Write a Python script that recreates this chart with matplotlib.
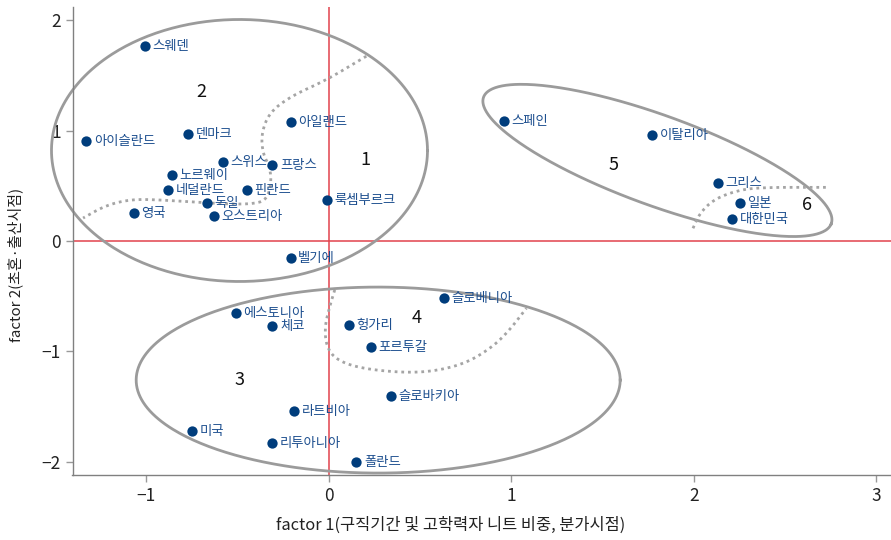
import matplotlib.pyplot as plt
import numpy as np

plt.rcParams['font.family'] = ['Noto Sans CJK KR', 'DejaVu Sans']

# country scores on the two factors
countries = ["스웨덴", "아이슬란드", "덴마크", "아일랜드", "스위스", "프랑스", "노르웨이",
             "네덜란드", "핀란드", "독일", "영국", "오스트리아", "룩셈부르크", "벨기에",
             "스페인", "이탈리아", "그리스", "일본", "대한민국",
             "슬로베니아", "에스토니아", "체코", "헝가리", "포르투갈", "슬로바키아",
             "라트비아", "미국", "리투아니아", "폴란드"]
factor1 = [-1.01, -1.33, -0.77, -0.21, -0.58, -0.31, -0.86,
           -0.88, -0.45, -0.67, -1.07, -0.63, -0.01, -0.21,
           0.96, 1.77, 2.13, 2.25, 2.21,
           0.63, -0.51, -0.31, 0.11, 0.23, 0.34,
           -0.19, -0.75, -0.31, 0.15]
factor2 = [1.77, 0.91, 0.97, 1.08, 0.72, 0.69, 0.60,
           0.46, 0.46, 0.34, 0.25, 0.23, 0.37, -0.15,
           1.09, 0.96, 0.53, 0.34, 0.20,
           -0.52, -0.65, -0.77, -0.76, -0.96, -1.40,
           -1.54, -1.72, -1.83, -2.00]

# cluster numbers and where they sit
cluster_ids = ["1", "2", "3", "4", "5", "6"]
cluster_x = [0.20, -0.70, -0.49, 0.48, 1.56, 2.62]
cluster_y = [0.73, 1.35, -1.26, -0.70, 0.69, 0.33]

# grouping ellipses: centre (data), semi-axes (px), rotation (deg, screen)
ellipses = [
    (-0.49, 0.82, 188, 131, 0),
    (0.27, -1.26, 242, 93, 0),
    (1.80, 0.73, 185, 45, -20),
]

# dotted sub-group boundaries
split_a_x = [0.205, -0.014, -0.198, -0.324, -0.370, -0.363, -0.324, -0.315,
             -0.342, -0.418, -0.562, -0.763, -0.911, -1.075, -1.219, -1.347]
split_a_y = [1.674, 1.457, 1.321, 1.170, 0.977, 0.796, 0.672, 0.525,
             0.371, 0.335, 0.335, 0.356, 0.371, 0.380, 0.326, 0.208]
split_b_x = [0.032, 0.004, -0.023, -0.014, 0.041, 0.169, 0.388, 0.570,
             0.753, 0.899, 0.991, 1.082]
split_b_y = [-0.443, -0.595, -0.776, -0.957, -1.077, -1.152, -1.192, -1.183,
             -1.107, -0.957, -0.805, -0.609]
split_c_x = [1.995, 2.032, 2.105, 2.214, 2.342, 2.735]
split_c_y = [0.115, 0.251, 0.371, 0.446, 0.486, 0.486]

XLIM = (-1.405, 3.08)
YLIM = (-2.12, 2.12)
W, H = 891, 540


def chaikin(xs, ys, n=3):
    pts = np.column_stack([xs, ys])
    for _ in range(n):
        q = 0.75 * pts[:-1] + 0.25 * pts[1:]
        r = 0.25 * pts[:-1] + 0.75 * pts[1:]
        new = np.empty((2 * len(q), 2))
        new[0::2] = q
        new[1::2] = r
        pts = np.vstack([pts[:1], new, pts[-1:]])
    return pts[:, 0], pts[:, 1]


fig = plt.figure(figsize=(W / 100, H / 100), dpi=100)
ax = fig.add_axes([72.5 / W, 65 / H, (W - 72.5) / W, 468 / H])
ax.set_xlim(*XLIM)
ax.set_ylim(*YLIM)

# pixels per data unit
sx = (W - 72.5) / (XLIM[1] - XLIM[0])
sy = 468 / (YLIM[1] - YLIM[0])

ax.axvline(0, color="#e2434d", lw=1.1, zorder=1)
ax.axhline(0, color="#e2434d", lw=1.1, zorder=1)

t = np.linspace(0, 2 * np.pi, 400)
for cx, cy, a, b, ang in ellipses:
    th = np.deg2rad(ang)
    dx = a * np.cos(t) * np.cos(th) - b * np.sin(t) * np.sin(th)
    dy = a * np.cos(t) * np.sin(th) + b * np.sin(t) * np.cos(th)
    ax.plot(cx + dx / sx, cy + dy / sy, color="#9b9b9b", lw=2, zorder=2, clip_on=False)

for xs, ys in [(split_a_x, split_a_y), (split_b_x, split_b_y), (split_c_x, split_c_y)]:
    px, py = chaikin(xs, ys)
    ax.plot(px, py, color="#a5a5a5", lw=2, ls=(0, (1, 1.4)), zorder=2)

ax.scatter(factor1, factor2, s=55, color="#003d7c", zorder=3, linewidths=0)
for name, x, y in zip(countries, factor1, factor2):
    ax.annotate(name, (x, y), xytext=(5.5, 0), textcoords="offset points",
                va="center", ha="left", fontsize=9.6, fontweight="medium",
                color="#1d4f8f", zorder=4)

for cid, x, y in zip(cluster_ids, cluster_x, cluster_y):
    ax.text(x, y, cid, ha="center", va="center", fontsize=13, color="#111111")

for side in ["top", "right"]:
    ax.spines[side].set_visible(False)
for side in ["left", "bottom"]:
    ax.spines[side].set_color("#808080")
    ax.spines[side].set_linewidth(1)

ax.set_xticks([-1, 0, 1, 2, 3])
ax.set_yticks([-2, -1, 0, 1, 2])
ax.tick_params(colors="#999999", labelcolor="#222222", labelsize=12.5, length=5, width=1)

ax.set_xlabel("factor 1(구직기간 및 고학력자 니트 비중, 분가시점)", fontsize=11.8, color="#222222")
ax.set_ylabel("factor 2(초혼·출산시점)", fontsize=10.8, color="#222222")
ax.xaxis.label.set_va("center")
ax.yaxis.label.set_va("center")
ax.xaxis.set_label_coords((451 - 72.5) / (W - 72.5), -(525 - 475) / 468)
ax.yaxis.set_label_coords(-(72.5 - 15) / (W - 72.5), (475 - 265) / 468)

fig.savefig("out.png", dpi=100)
